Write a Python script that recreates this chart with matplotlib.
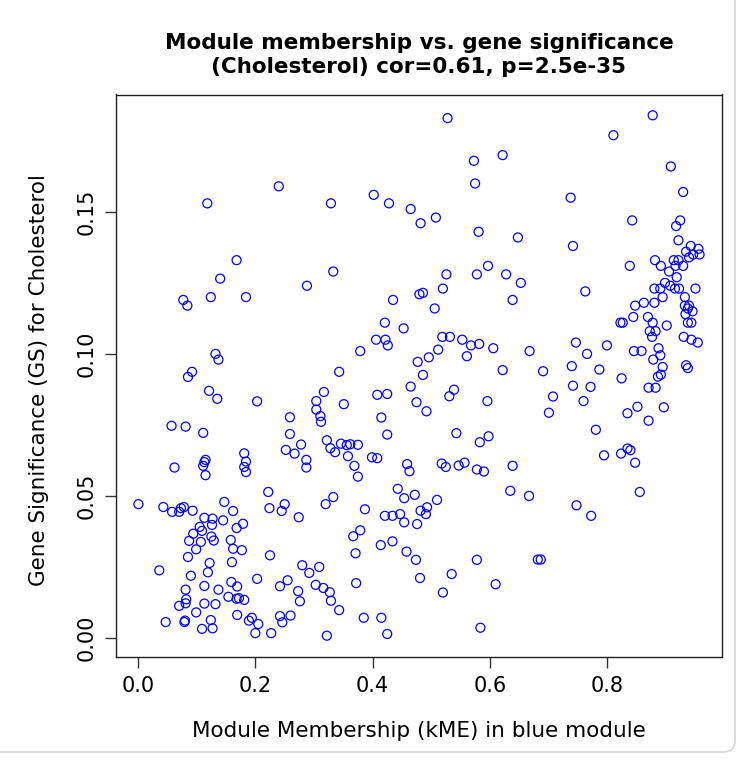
import matplotlib
matplotlib.use("Agg")
import matplotlib.pyplot as plt
from matplotlib.patches import FancyBboxPatch
import numpy as np

title = "Module membership vs. gene significance\n(Cholesterol) cor=0.61, p=2.5e-35"
xlabel = "Module Membership (kME) in blue module"
ylabel = "Gene Significance (GS) for Cholesterol"
xticks = [0.0, 0.2, 0.4, 0.6, 0.8]
xticklabels = ["0.0", "0.2", "0.4", "0.6", "0.8"]
yticks = [0.00, 0.05, 0.10, 0.15]
yticklabels = ["0.00", "0.05", "0.10", "0.15"]

kme = [
 0.118,0.240,0.528,0.573,0.622,0.575,0.329,0.402,0.428,0.465,0.482,0.508,0.581,0.648,
 0.878,0.811,0.909,0.930,0.738,0.843,0.925,0.918,0.742,0.922,0.943,0.956,0.935,0.947,
 0.958,0.940,0.914,0.922,0.917,0.930,0.882,0.892,0.839,0.906,0.919,0.653,0.899,0.881,
 0.891,0.908,0.916,0.923,0.951,0.763,0.895,0.933,0.639,0.863,0.881,0.848,0.933,0.940,
 0.938,0.946,0.934,0.870,0.845,0.878,0.823,0.827,0.902,0.944,0.938,0.883,0.873,0.877,
 0.931,0.944,0.955,0.747,0.800,0.668,0.766,0.846,0.859,0.888,0.891,0.879,0.740,0.787,
 0.691,0.895,0.935,0.938,0.892,0.887,0.825,0.742,0.772,0.871,0.883,0.708,0.760,0.701,
 0.835,0.852,0.897,0.871,0.781,0.835,0.840,0.824,0.795,0.848,0.639,0.667,0.748,0.773,
 0.856,0.682,0.687,
 0.333,0.526,0.578,0.597,0.628,0.520,0.480,0.486,0.435,0.506,0.421,0.453,0.406,0.422,
 0.426,0.379,0.519,0.532,0.553,0.568,0.582,0.606,0.512,0.496,0.477,0.561,0.486,0.622,
 0.343,0.465,0.539,0.317,0.408,0.425,0.531,
 0.168,0.140,0.288,0.077,0.084,0.124,0.184,0.132,0.137,0.092,0.085,0.121,
 0.135,0.203,0.304,0.304,0.057,0.081,0.111,0.259,0.259,0.278,0.252,0.267,0.287,0.287,
 0.181,0.184,0.181,0.184,0.115,0.113,0.111,0.115,0.062,0.222,0.0005,0.043,0.058,0.070,
 0.073,0.078,0.093,0.147,0.162,0.224,0.250,0.245,0.274,0.113,0.127,0.145,0.126,0.179,
 0.168,0.105,0.109,0.094,0.125,0.087,0.107,0.129,0.158,
 0.099,0.162,0.177,0.085,0.225,0.160,0.122,0.036,0.119,0.090,0.203,0.280,0.292,0.309,
 0.159,0.169,0.113,0.137,0.081,0.255,0.242,0.273,0.303,0.154,0.168,0.172,0.181,0.082,
 0.081,0.070,0.113,0.132,0.276,0.099,0.169,0.194,0.189,0.205,0.242,0.260,0.246,0.047,
 0.080,0.079,0.124,0.109,0.127,0.200,0.227,
 0.414,0.434,0.371,0.458,0.474,0.578,0.481,0.535,0.372,0.316,0.327,0.329,0.343,0.520,
 0.610,0.385,0.415,0.584,0.322,0.425,
 0.311,0.312,0.351,0.475,0.492,0.596,0.415,0.425,0.543,0.583,0.598,0.322,0.328,0.336,
 0.346,0.356,0.362,0.375,0.358,0.399,0.408,0.369,0.375,0.459,0.463,0.518,0.525,0.547,
 0.557,0.578,0.590,0.635,0.443,0.454,0.472,0.510,0.320,0.333,0.387,0.482,0.493,0.491,
 0.421,0.434,0.447,0.454,0.476,0.367,0.379,
]

gs = [
 0.153,0.159,0.183,0.168,0.170,0.160,0.153,0.156,0.153,0.151,0.146,0.148,0.143,0.141,
 0.184,0.177,0.166,0.157,0.155,0.147,0.147,0.145,0.138,0.140,0.138,0.137,0.136,0.135,
 0.135,0.134,0.133,0.133,0.131,0.131,0.133,0.131,0.131,0.129,0.127,0.125,0.125,0.123,
 0.123,0.124,0.123,0.123,0.123,0.122,0.120,0.120,0.119,0.118,0.118,0.117,0.117,0.117,
 0.116,0.115,0.114,0.113,0.113,0.111,0.111,0.111,0.110,0.111,0.111,0.108,0.108,0.106,
 0.106,0.105,0.104,0.104,0.103,0.101,0.100,0.101,0.101,0.102,0.0995,0.098,0.0957,0.0945,
 0.0939,0.0954,0.0960,0.0950,0.0927,0.0920,0.0914,0.0888,0.0884,0.0881,0.0881,0.0850,0.0834,0.0793,
 0.0791,0.0814,0.0812,0.0765,0.0733,0.0667,0.0661,0.0649,0.0643,0.0617,0.0606,0.0500,0.0467,0.0430,
 0.0514,0.0276,0.0276,
 0.129,0.128,0.128,0.131,0.128,0.123,0.121,0.1215,0.119,0.116,0.111,0.109,0.105,0.105,
 0.103,0.101,0.106,0.106,0.105,0.103,0.1035,0.102,0.1015,0.0988,0.0972,0.0992,0.0926,0.0943,
 0.0937,0.0885,0.0874,0.0866,0.0856,0.0859,0.0851,
 0.133,0.1265,0.124,0.119,0.117,0.120,0.120,0.100,0.098,0.0937,0.0919,0.0870,
 0.0842,0.0833,0.0834,0.0804,0.0747,0.0744,0.0722,0.0777,0.0718,0.0681,0.0662,0.0649,0.0627,0.0600,
 0.0650,0.0621,0.0602,0.0584,0.0627,0.0619,0.0606,0.0573,0.0600,0.0514,0.0471,0.0461,0.0444,0.0444,
 0.0457,0.0461,0.0448,0.0479,0.0447,0.0457,0.0471,0.0447,0.0425,0.0423,0.0420,0.0414,0.0398,0.0402,
 0.0387,0.0391,0.0377,0.0367,0.0357,0.0342,0.0338,0.0343,0.0345,
 0.0312,0.0314,0.0309,0.0285,0.0291,0.0267,0.0264,0.0238,0.0231,0.0219,0.0208,0.0256,0.0229,0.0250,
 0.0197,0.0181,0.0183,0.0170,0.0170,0.0203,0.0182,0.0165,0.0187,0.0145,0.0138,0.0140,0.0134,0.0136,
 0.0122,0.0113,0.0121,0.0119,0.0129,0.0090,0.0081,0.0071,0.0061,0.0049,0.0077,0.0079,0.0055,0.0056,
 0.0061,0.0056,0.0063,0.0032,0.0034,0.0017,0.0017,
 0.0327,0.0340,0.0298,0.0304,0.0275,0.0275,0.0211,0.0225,0.0193,0.0176,0.0161,0.0131,0.0098,0.0160,
 0.0189,0.0071,0.0071,0.0036,0.0008,0.0014,
 0.0781,0.0761,0.0823,0.0830,0.0798,0.0834,0.0776,0.0716,0.0721,0.0689,0.0710,0.0696,0.0668,0.0654,
 0.0684,0.0679,0.0682,0.0680,0.0640,0.0636,0.0633,0.0606,0.0568,0.0612,0.0587,0.0614,0.0602,0.0607,
 0.0617,0.0593,0.0586,0.0518,0.0525,0.0492,0.0504,0.0486,0.0471,0.0496,0.0453,0.0448,0.0460,0.0436,
 0.0430,0.0430,0.0436,0.0407,0.0401,0.0358,0.0379,
]

W, H = 753, 760
fig = plt.figure(figsize=(W / 100, H / 100), dpi=100)

# light card border of the screenshot (right and bottom edges)
fig.patches.append(FancyBboxPatch((-20 / W, 1 - 752 / H), (735 + 20) / W, (752 + 20) / H,
                                  boxstyle="round,pad=0,rounding_size=0.015",
                                  transform=fig.transFigure, facecolor="none",
                                  edgecolor="#d6d6d6", linewidth=1.2, zorder=0))

L, R, T, B = 116, 722, 94.5, 656.5
ax = fig.add_axes([L / W, 1 - B / H, (R - L) / W, (B - T) / H])

ax.scatter(kme, gs, s=42, facecolors="none", edgecolors="#0000ff", linewidths=0.9)

xmin, xmax = min(kme), max(kme)
ymin, ymax = min(gs), max(gs)
xr, yr = xmax - xmin, ymax - ymin
ax.set_xlim(xmin - 0.04 * xr, xmax + 0.04 * xr)
ax.set_ylim(ymin - 0.04 * yr, ymax + 0.04 * yr)

ax.set_xticks(xticks)
ax.set_xticklabels(xticklabels)
ax.set_yticks(yticks)
ax.set_yticklabels(yticklabels, rotation=90, va="center")
ax.tick_params(axis="both", length=7.7, width=1, labelsize=15, color="#333333", pad=6.5)
for sp in ax.spines.values():
    sp.set_linewidth(1)
    sp.set_color("#222222")

cx = 0.5 * (L + R) / W
fig.text(cx, 1 - 731 / H, xlabel, ha="center", va="center", fontsize=15.5)
fig.text(39 / W, 1 - 380 / H, ylabel, ha="center", va="center", fontsize=15.5, rotation=90)
fig.text(cx, 1 - 55 / H, title, ha="center", va="center",
         fontsize=15.5, fontweight="bold", linespacing=1.3)

fig.savefig("out.png", dpi=100)
